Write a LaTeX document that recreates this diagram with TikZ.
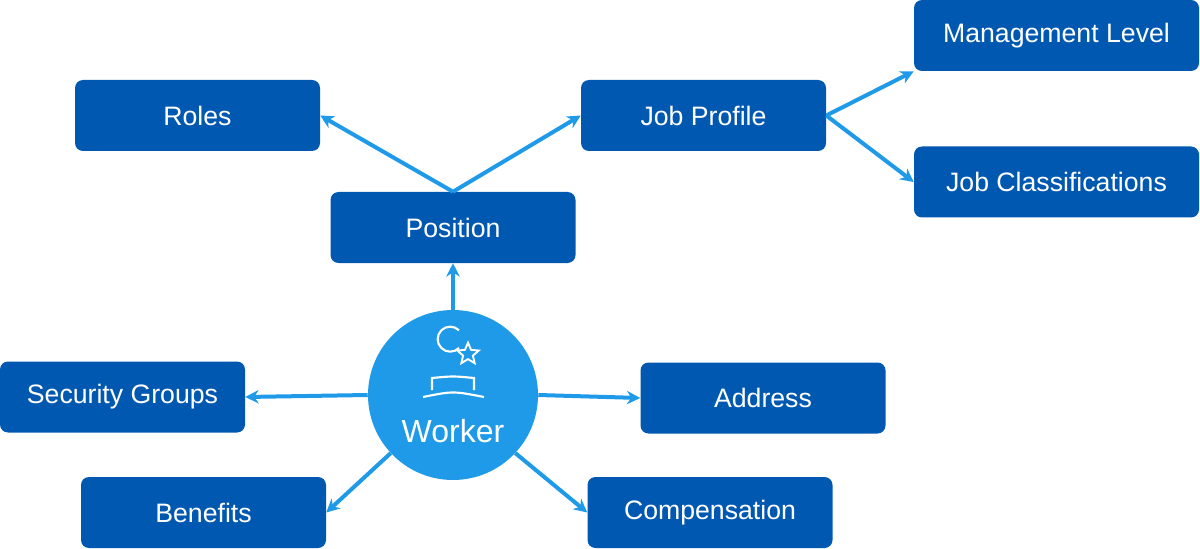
\documentclass[tikz,border=0pt]{standalone}
\usepackage{fontspec}
\setmainfont{Liberation Sans}
\usetikzlibrary{arrows.meta, positioning, shapes.geometric}
\definecolor{boxblue}{HTML}{0158B0}
\definecolor{linkblue}{HTML}{1E9AE8}
\tikzset{
         mybox/.style={draw=none, fill=boxblue, text=white, rounded corners=6pt, minimum height=53.25pt, minimum width=183.75pt, font=\fontsize{20}{22}\selectfont},
         mywide/.style={mybox, minimum width=213.75pt},
         mylink/.style={draw=linkblue, line width=3pt, -{Stealth[length=10pt,width=10pt]}}
      }
\begin{document}
\begin{tikzpicture}[x=0.75pt,y=-0.75pt]
  \useasboundingbox (0,0) rectangle (1200,549);
  % boxes
  \node[mybox] (roles) at (197.5,115.5) {Roles};
  \node[mybox] (profile) at (703.5,115.5) {Job Profile};
  \node[mywide] (mgmt) at (1056.5,35.5) {Management Level};
  \node[mywide] (classes) at (1056.5,182) {Job Classifications};
  \node[mybox] (position) at (453,227.5) {Position};
  \node[mybox] (security) at (122.5,397) {Security Groups};
  \node[mybox] (address) at (763,398) {Address};
  \node[mybox] (benefits) at (203.5,512.5) {Benefits};
  \node[mybox] (comp) at (710,512.5) {Compensation};
  % worker
  \node[circle, fill=linkblue, minimum size=127.5pt, inner sep=0pt] (worker) at (453,395) {};
  \node[text=white, font=\fontsize{24}{26}\selectfont] (wlabel) at (453,431) {Worker};
  \begin{scope}[draw=white, line width=1.6pt]
    \draw (459,348) arc (45:315:12.5);
    \node[star, star points=5, star point ratio=2.2, draw=white, line width=1.4pt, minimum size=17pt, inner sep=0pt] (wstar) at (468,354) {};
    \draw (432,390) -- (432,378) .. controls (453,376) .. (474,378) -- (474,390);
    \draw (423,397) .. controls (453,391) .. (484,397);
  \end{scope}
  % connectors
  \draw[mylink] (position.north) -- (roles.east);
  \draw[mylink] (position.north) -- (profile.west);
  \draw[mylink] (profile.east) -- (mgmt.south west);
  \draw[mylink] (profile.east) -- (classes.west);
  \draw[mylink] (worker.north) -- (position.south);
  \draw[mylink] (worker.west) -- (security.east);
  \draw[mylink] (worker.east) -- (address.west);
  \draw[mylink] (worker.223) -- (benefits.east);
  \draw[mylink] (worker.317) -- (comp.west);
\end{tikzpicture}
\end{document}
